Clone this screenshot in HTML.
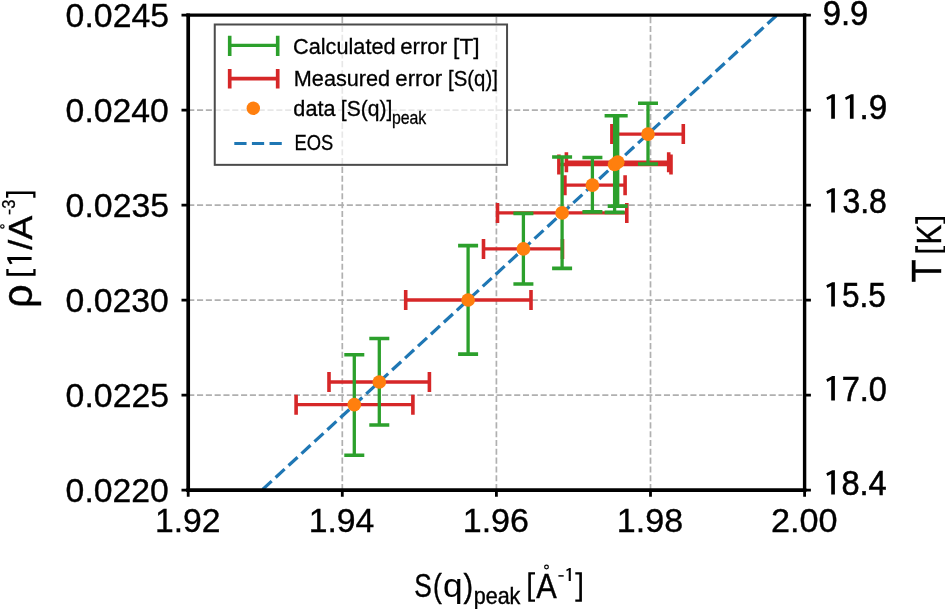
<!DOCTYPE html>
<html><head><meta charset="utf-8"><style>
html,body{margin:0;padding:0;background:#fff;width:945px;height:609px;overflow:hidden}
svg{display:block}
text{font-family:"Liberation Sans",sans-serif;fill:#000}
</style></head><body>
<svg width="945" height="609" viewBox="0 0 945 609" style="will-change:transform">
<rect width="945" height="609" fill="#fff"/>
<g stroke="#b0b0b0" stroke-width="1.7" stroke-dasharray="6.1 2.71"><line x1="342.30" y1="490.10" x2="342.30" y2="15.10"/><line x1="496.40" y1="490.10" x2="496.40" y2="15.10"/><line x1="650.50" y1="490.10" x2="650.50" y2="15.10"/></g>
<g stroke="#b0b0b0" stroke-width="1.7" stroke-dasharray="6.1 2.71"><line x1="188.20" y1="110.10" x2="804.60" y2="110.10"/><line x1="188.20" y1="205.10" x2="804.60" y2="205.10"/><line x1="188.20" y1="300.10" x2="804.60" y2="300.10"/><line x1="188.20" y1="395.10" x2="804.60" y2="395.10"/></g>
<defs><clipPath id="ax"><rect x="188.2" y="15.1" width="616.40" height="475.00"/></clipPath></defs>
<g clip-path="url(#ax)">
<path d="M296.10 404.70H412.90M329.00 382.00H429.40M405.70 300.00H531.00M483.50 248.90H562.50M497.50 212.90H626.80M564.90 185.20H625.10M558.90 164.50H671.00M566.40 162.20H668.70M611.90 134.10H683.30" stroke="#d62728" stroke-width="3.3" fill="none"/>
<path d="M296.10 394.70V414.70M412.90 394.70V414.70M329.00 372.00V392.00M429.40 372.00V392.00M405.70 290.00V310.00M531.00 290.00V310.00M483.50 238.90V258.90M562.50 238.90V258.90M497.50 202.90V222.90M626.80 202.90V222.90M564.90 175.20V195.20M625.10 175.20V195.20M558.90 154.50V174.50M671.00 154.50V174.50M566.40 152.20V172.20M668.70 152.20V172.20M611.90 124.10V144.10M683.30 124.10V144.10" stroke="#d62728" stroke-width="3.6" fill="none"/>
<path d="M354.30 354.80V455.30M379.30 338.50V425.00M468.10 245.60V354.10M523.40 213.40V284.00M562.10 157.00V268.40M592.40 157.50V211.90M614.60 115.80V212.40M617.70 115.80V206.10M648.00 103.30V164.00" stroke="#2ca02c" stroke-width="3.3" fill="none"/>
<path d="M344.30 354.80H364.30M344.30 455.30H364.30M369.30 338.50H389.30M369.30 425.00H389.30M458.10 245.60H478.10M458.10 354.10H478.10M513.40 213.40H533.40M513.40 284.00H533.40M552.10 157.00H572.10M552.10 268.40H572.10M582.40 157.50H602.40M582.40 211.90H602.40M604.60 115.80H624.60M604.60 212.40H624.60M607.70 115.80H627.70M607.70 206.10H627.70M638.00 103.30H658.00M638.00 164.00H658.00" stroke="#2ca02c" stroke-width="3.6" fill="none"/>
<line x1="249.72" y1="501.36" x2="830" y2="-33.89" stroke="#1f77b4" stroke-width="3.2" stroke-dasharray="12.25 5.36"/>
<g fill="#ff7f0e"><circle cx="354.30" cy="404.70" r="6.85"/><circle cx="379.30" cy="382.00" r="6.85"/><circle cx="468.10" cy="300.00" r="6.85"/><circle cx="523.40" cy="248.90" r="6.85"/><circle cx="562.10" cy="212.90" r="6.85"/><circle cx="592.40" cy="185.20" r="6.85"/><circle cx="614.60" cy="164.50" r="6.85"/><circle cx="617.70" cy="162.20" r="6.85"/><circle cx="648.00" cy="134.10" r="6.85"/></g>
</g>
<g stroke="#000" fill="none">
<line x1="188.20" y1="13.45" x2="188.20" y2="491.90" stroke-width="3.7"/>
<line x1="186.35" y1="15.10" x2="806.30" y2="15.10" stroke-width="3.3"/>
<line x1="186.35" y1="490.10" x2="806.30" y2="490.10" stroke-width="3.7"/>
<line x1="804.60" y1="13.45" x2="804.60" y2="491.90" stroke-width="3.4"/>
<path d="M188.20 490.10V496.80M342.30 490.10V496.80M496.40 490.10V496.80M650.50 490.10V496.80M804.60 490.10V496.80M188.20 15.10H181.50M804.60 15.10H810.90M188.20 110.10H181.50M804.60 110.10H810.90M188.20 205.10H181.50M804.60 205.10H810.90M188.20 300.10H181.50M804.60 300.10H810.90M188.20 395.10H181.50M804.60 395.10H810.90M188.20 490.10H181.50M804.60 490.10H810.90" stroke-width="2.8"/>
</g>
<rect x="214.75" y="24.5" width="292.3" height="140.35" fill="#fff" fill-opacity="0.7" stroke="#4b4b4b" stroke-width="2"/>
<path d="M229.7 45.4H277.7" stroke="#2ca02c" stroke-width="3.4" fill="none"/>
<path d="M229.7 35.8V55.9M277.7 35.8V55.9" stroke="#2ca02c" stroke-width="3.6" fill="none"/>
<path d="M229.7 78.6H277.7" stroke="#d62728" stroke-width="3.6" fill="none"/>
<path d="M229.7 68.9V88.6M277.7 68.9V88.6" stroke="#d62728" stroke-width="3.7" fill="none"/>
<circle cx="253.3" cy="108.3" r="6.7" fill="#ff7f0e"/>
<line x1="234.3" y1="143.5" x2="281.9" y2="143.5" stroke="#1f77b4" stroke-width="3.2" stroke-dasharray="12.25 5.36"/>
<text transform="translate(65.61 26.60) scale(1.0100 1)" font-size="33.5" stroke="#000" stroke-width="0.35">0.0245</text>
<text transform="translate(65.62 121.60) scale(1.0075 1)" font-size="33.5" stroke="#000" stroke-width="0.35">0.0240</text>
<text transform="translate(65.61 216.60) scale(1.0100 1)" font-size="33.5" stroke="#000" stroke-width="0.35">0.0235</text>
<text transform="translate(65.62 311.60) scale(1.0075 1)" font-size="33.5" stroke="#000" stroke-width="0.35">0.0230</text>
<text transform="translate(65.61 406.60) scale(1.0100 1)" font-size="33.5" stroke="#000" stroke-width="0.35">0.0225</text>
<text transform="translate(65.62 501.60) scale(1.0075 1)" font-size="33.5" stroke="#000" stroke-width="0.35">0.0220</text>
<text transform="translate(155.01 531.50) scale(1.0057 1)" font-size="33.5" stroke="#000" stroke-width="0.35">1.92</text>
<text transform="translate(308.65 531.50) scale(1.0081 1)" font-size="33.5" stroke="#000" stroke-width="0.35">1.94</text>
<text transform="translate(462.73 531.50) scale(1.0163 1)" font-size="33.5" stroke="#000" stroke-width="0.35">1.96</text>
<text transform="translate(616.83 531.50) scale(1.0163 1)" font-size="33.5" stroke="#000" stroke-width="0.35">1.98</text>
<text transform="translate(771.04 531.50) scale(1.0209 1)" font-size="33.5" stroke="#000" stroke-width="0.35">2.00</text>
<text transform="translate(822.75 24.60) scale(0.9531 1)" font-size="34.4" stroke="#000" stroke-width="0.55">9.9</text>
<text transform="translate(859.53 118.70) scale(0.9663 1)" font-size="34.4" stroke="#000" stroke-width="0.55">.9</text>
<text transform="translate(842.41 212.60) scale(0.9300 1)" font-size="34.4" stroke="#000" stroke-width="0.55">3.8</text>
<text transform="translate(842.00 306.60) scale(0.9151 1)" font-size="34.4" stroke="#000" stroke-width="0.55">5.5</text>
<text transform="translate(841.72 400.50) scale(0.9464 1)" font-size="34.4" stroke="#000" stroke-width="0.55">7.0</text>
<text transform="translate(841.45 494.60) scale(0.9470 1)" font-size="34.4" stroke="#000" stroke-width="0.55">8.4</text>
<text transform="translate(293.06 53.70) scale(0.9872 1)" font-size="22" stroke="#000" stroke-width="0.3">Calculated</text>
<text transform="translate(400.14 53.70) scale(1.0111 1)" font-size="22" stroke="#000" stroke-width="0.3">error</text>
<text transform="translate(453.10 53.70) scale(1.0311 1)" font-size="22" stroke="#000" stroke-width="0.3">[T]</text>
<text transform="translate(293.83 85.90) scale(0.9847 1)" font-size="22" stroke="#000" stroke-width="0.3">Measured</text>
<text transform="translate(395.34 85.90) scale(1.0067 1)" font-size="22" stroke="#000" stroke-width="0.3">error</text>
<text transform="translate(448.06 85.90) scale(0.9261 1)" font-size="22" stroke="#000" stroke-width="0.3">[S(q)]</text>
<text transform="translate(293.37 116.40) scale(0.9820 1)" font-size="22" stroke="#000" stroke-width="0.3">data</text>
<text transform="translate(340.81 116.40) scale(0.9576 1)" font-size="22" stroke="#000" stroke-width="0.3">[S(q)]</text>
<text transform="translate(391.92 123.60) scale(0.9068 1)" font-size="17.5" stroke="#000" stroke-width="0.3">peak</text>
<text transform="translate(294.49 149.80) scale(0.8343 1)" font-size="22" stroke="#000" stroke-width="0.3">EOS</text>
<text transform="translate(414.15 597.40) scale(0.7740 1)" font-size="34" stroke="#000" stroke-width="0.4">S</text>
<text transform="translate(432.94 597.40) scale(0.7778 1)" font-size="34" stroke="#000" stroke-width="0.4">(</text>
<text transform="translate(442.90 597.40) scale(1.0361 1)" font-size="34.01" stroke="#000" stroke-width="0.1">q</text>
<text transform="translate(463.39 597.40) scale(0.8444 1)" font-size="34" stroke="#000" stroke-width="0.4">)</text>
<text transform="translate(473.69 603.80) scale(0.9368 1)" font-size="23" stroke="#000" stroke-width="0.4">peak</text>
<text transform="translate(536.30 597.60) scale(0.8774 1)" font-size="35" stroke="#000" stroke-width="0.4">A</text>
<text transform="translate(32.20 308.12) rotate(-90) scale(0.9897 1)" font-size="42" stroke="#000" stroke-width="0.4">ρ</text>
<text transform="translate(31.60 249.80) rotate(-90) scale(1.0562 1)" font-size="34" stroke="#000" stroke-width="0.4">/A</text>
<text transform="translate(15.40 208.66) rotate(-90) scale(0.9455 1)" font-size="17.5" stroke="#000" stroke-width="0.3">3</text>
<text transform="translate(941.00 282.51) rotate(-90) scale(0.9053 1)" font-size="42" stroke="#000" stroke-width="0.4">T</text>
<text transform="translate(941.00 244.47) rotate(-90) scale(0.8608 1)" font-size="34.6" stroke="#000" stroke-width="0.4">K</text>
<path d="M834.90 94.30L832.30 94.30L826.30 97.40L827.30 100.10L831.20 98.00L831.20 118.70L834.90 118.70ZM853.60 94.30L851.00 94.30L845.00 97.40L846.00 100.10L849.90 98.00L849.90 118.70L853.60 118.70ZM834.90 188.20L832.30 188.20L826.30 191.30L827.30 194.00L831.20 191.90L831.20 212.60L834.90 212.60ZM834.90 282.20L832.30 282.20L826.30 285.30L827.30 288.00L831.20 285.90L831.20 306.60L834.90 306.60ZM834.90 376.10L832.30 376.10L826.30 379.20L827.30 381.90L831.20 379.80L831.20 400.50L834.90 400.50ZM834.90 470.20L832.30 470.20L826.30 473.30L827.30 476.00L831.20 473.90L831.20 494.60L834.90 494.60Z" fill="#000"/>
<circle cx="546.5" cy="567" r="1.85" fill="none" stroke="#000" stroke-width="1.2"/>
<line x1="558.4" y1="575.9" x2="563.7" y2="575.9" stroke="#000" stroke-width="1.5"/>
<circle cx="2.35" cy="226.45" r="1.7" fill="none" stroke="#000" stroke-width="1.15"/>
<line x1="9.6" y1="209.5" x2="9.6" y2="214.4" stroke="#000" stroke-width="1.6"/>
<path d="M7.2 257.1L7.2 259.2L10.0 264.3L12.6 263.6L10.5 259.9L31.6 259.9L31.6 257.1Z" fill="#000"/>
<path d="M570.80 568.10L569.41 568.10L566.22 569.75L566.75 571.19L568.70 570.07L568.70 581.10L570.80 581.10Z" fill="#000"/>
<path d="M528.30 572.20H530.90V601.80H528.30ZM528.30 572.20H535.00V574.40H528.30ZM528.30 599.60H535.00V601.80H528.30ZM579.30 572.20H581.90V601.80H579.30ZM575.30 572.20H581.90V574.40H575.30ZM575.30 599.60H581.90V601.80H575.30ZM6.30 273.00H35.60V275.70H6.30ZM6.30 269.10H8.60V275.70H6.30ZM33.30 269.10H35.60V275.70H33.30ZM6.00 191.40H35.50V194.00H6.00ZM6.00 191.40H8.30V197.80H6.00ZM33.20 191.40H35.50V197.80H33.20ZM915.20 217.00H947.00V219.80H915.20ZM915.20 217.00H917.90V223.70H915.20ZM943.50 217.00H946.20V223.70H943.50ZM915.20 249.70H947.00V252.50H915.20ZM915.20 246.00H917.90V252.50H915.20ZM943.50 246.00H946.20V252.50H943.50Z" fill="#000"/>
</svg></body></html>
